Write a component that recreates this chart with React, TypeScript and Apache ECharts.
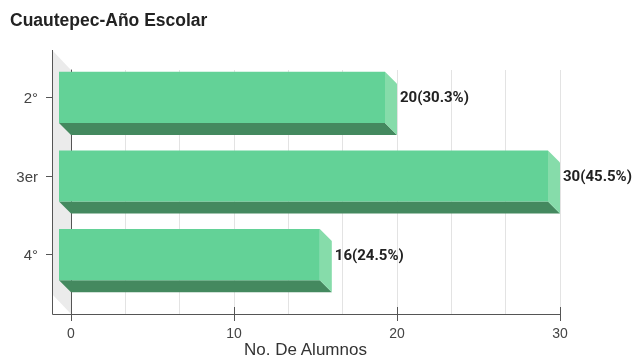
import React, { useEffect, useRef } from 'react';
import * as echarts from 'echarts';

const categories = ['2°', '3er', '4°'];
const alumnos = [20, 30, 16];
const porcentajes = ['30.3%', '45.5%', '24.5%'];
const xMin = 0;
const xMax = 30;
const xInterval = 10;
const titleText = 'Cuautepec-Año Escolar';
const xName = 'No. De Alumnos';

const AX_FONT = '"Liberation Sans", Arial, sans-serif';

export default function App() {
  const ref = useRef<HTMLDivElement>(null);
  useEffect(() => {
    const chart = echarts.init(ref.current!, null, { renderer: 'svg' });
    const DX = 12, DY = 12, WX = 19, WY = 20;
    const option: any = {
      animation: false,
      title: {
        text: titleText, left: 10, top: 11, padding: 0,
        textStyle: { fontSize: 17.5, fontWeight: 'bold', color: '#222', fontFamily: AX_FONT },
      },
      grid: [
        { left: 71, right: 74, top: 70, bottom: 46, outerBoundsMode: 'none', containLabel: false },
        { left: 71, right: 74, top: 58, bottom: 66, outerBoundsMode: 'none', containLabel: false },
      ],
      xAxis: [
        {
          gridIndex: 0, type: 'value', min: xMin, max: xMax, interval: xInterval, position: 'bottom',
          axisLine: { show: true, onZero: false, lineStyle: { color: '#555' } },
          axisTick: { show: true, length: 7, lineStyle: { color: '#555' } },
          axisLabel: { margin: 12, color: '#444', fontSize: 14, fontFamily: AX_FONT },
          splitLine: { show: true, showMinLine: false, lineStyle: { color: '#e3e3e3' } },
          minorTick: { show: false, splitNumber: 3 },
          minorSplitLine: { show: true, lineStyle: { color: '#e3e3e3' } },
          name: xName, nameLocation: 'middle', nameGap: 27, nameMoveOverlap: false,
          nameTextStyle: { fontSize: 17, lineHeight: 17, color: '#333', fontFamily: AX_FONT, padding: [0, 20, 0, 0] },
        },
        {
          gridIndex: 0, type: 'value', min: xMin, max: xMax, interval: xInterval, position: 'bottom',
          axisLine: { show: false, onZero: false },
          axisTick: { show: true, inside: true, length: 7, lineStyle: { color: '#555' } },
          axisLabel: { show: false }, splitLine: { show: false },
        },
        { gridIndex: 1, type: 'value', min: xMin, max: xMax, show: false },
      ],
      yAxis: [
        {
          gridIndex: 0, type: 'category', data: categories, inverse: true, position: 'left',
          axisLine: { show: true, onZero: false, lineStyle: { color: '#555' } },
          axisTick: { show: false }, axisLabel: { show: false }, splitLine: { show: false },
        },
        {
          gridIndex: 1, type: 'category', data: categories, inverse: true, position: 'left', offset: 19,
          axisLine: { show: false, onZero: false },
          axisTick: { show: true, length: 6, alignWithLabel: true, lineStyle: { color: '#555' } },
          axisLabel: { margin: 14, color: '#444', fontSize: 15, fontFamily: AX_FONT },
        },
        {
          gridIndex: 1, type: 'category', data: categories, inverse: true, position: 'left', offset: 19,
          axisLine: { show: false, onZero: false },
          axisTick: { show: true, inside: true, length: 6, alignWithLabel: true, lineStyle: { color: '#555' } },
          axisLabel: { show: false },
        },
      ],
      series: [
        {
          type: 'custom', xAxisIndex: 0, yAxisIndex: 0, silent: true, data: [[0, 0]],
          renderItem: (params: any) => {
            const cs = params.coordSys;
            const x0 = cs.x, y0 = cs.y, h = cs.height;
            const lx = x0 - WX + 0.5;
            const by = y0 + h + 0.5;
            return {
              type: 'group',
              children: [
                { type: 'polygon', shape: { points: [[x0 - WX, y0 - WY], [x0, y0], [x0, y0 + h], [x0 - WX, y0 + h - WY]] }, style: { fill: '#ebebeb' } },
                { type: 'line', shape: { x1: lx, y1: y0 - WY, x2: lx, y2: by }, style: { stroke: '#555', lineWidth: 1 } },
                { type: 'line', shape: { x1: lx, y1: by, x2: x0, y2: by }, style: { stroke: '#555', lineWidth: 1 } },
              ],
            };
          },
        },
        {
          type: 'custom', xAxisIndex: 2, yAxisIndex: 1, silent: true,
          data: alumnos.map((v, i) => [v, i]),
          encode: { x: 0, y: 1 },
          renderItem: (params: any, api: any) => {
            const v = api.value(0);
            const idx = api.value(1);
            const p0 = api.coord([0, idx]);
            const p1 = api.coord([v, idx]);
            const band = api.size([0, 1])[1];
            const h = band * 0.65;
            const xL = p0[0] - DX, xR = p1[0] - DX;
            const yT = p0[1] - h / 2, yB = p0[1] + h / 2;
            return {
              type: 'group',
              children: [
                { type: 'polygon', shape: { points: [[xL, yB], [xR, yB], [xR + DX, yB + DY], [xL + DX, yB + DY]] }, style: { fill: '#44895f' } },
                { type: 'polygon', shape: { points: [[xR, yT], [xR + DX, yT + DY], [xR + DX, yB + DY], [xR, yB]] }, style: { fill: '#86dcaa' } },
                { type: 'rect', shape: { x: xL, y: yT, width: xR - xL, height: h }, style: { fill: '#63d297' } },
                {
                  type: 'text',
                  style: {
                    text: `${alumnos[params.dataIndex]}(${porcentajes[params.dataIndex]})`,
                    x: p1[0] + 3, y: p0[1],
                    fill: '#222', fontSize: 15, fontWeight: 'bold', fontFamily: 'Roboto, sans-serif',
                    align: 'left', verticalAlign: 'middle',
                  },
                },
              ],
            };
          },
        },
      ],
    };
    chart.setOption(option);
    return () => chart.dispose();
  }, []);
  return <div ref={ref} style={{ position: 'fixed', left: 0, top: 0, width: 634, height: 360 }} />;
}
